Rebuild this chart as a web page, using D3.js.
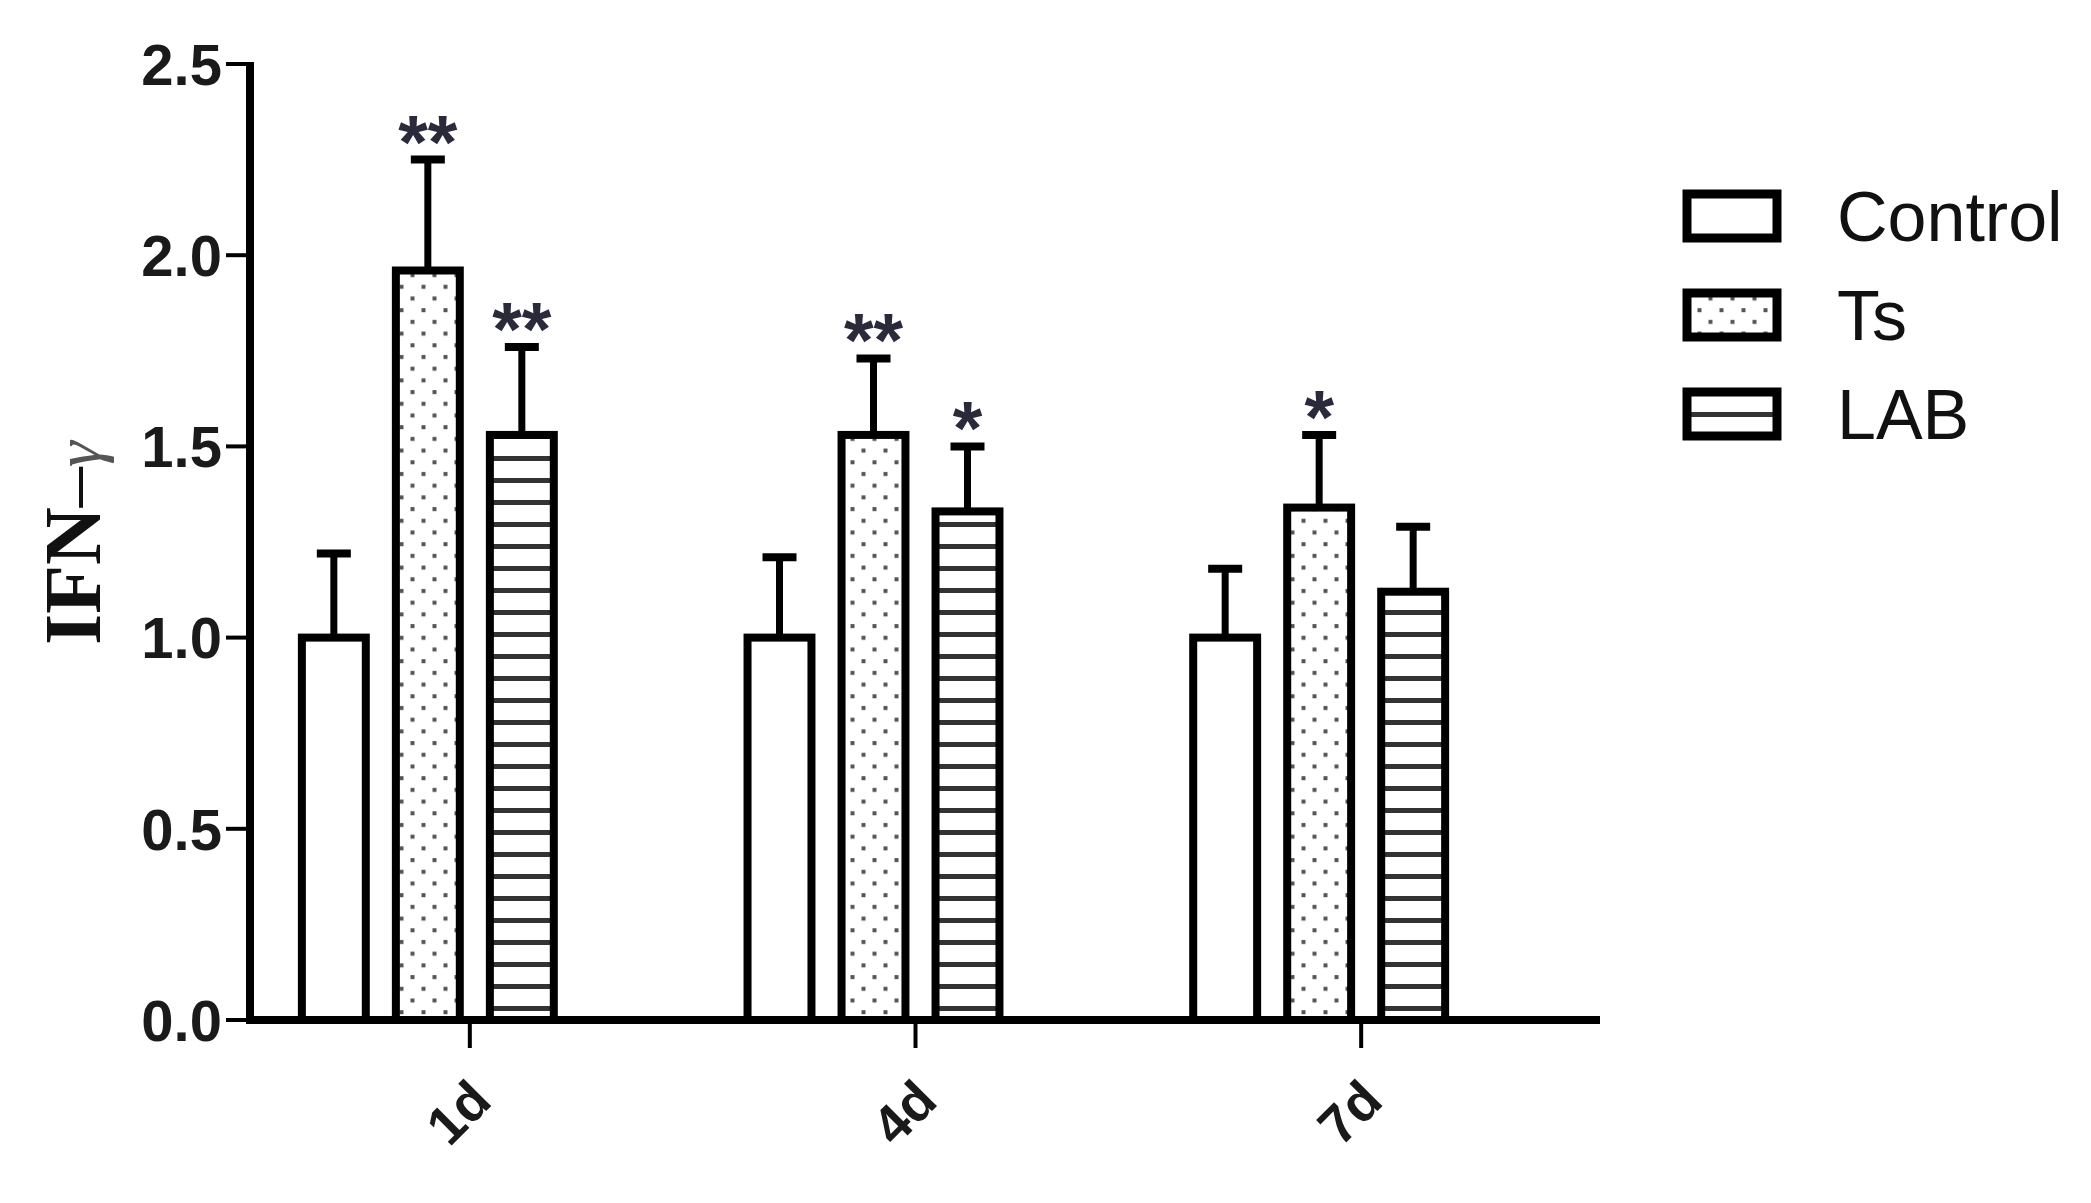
<!DOCTYPE html>
<html>
<head>
<meta charset="utf-8">
<script src="https://cdn.jsdelivr.net/npm/d3@7"></script>
<style>
  body { margin: 0; background: #fff; }
  svg { display: block; }
</style>
</head>
<body>
<svg></svg>
<script>
var width = 2091, height = 1203;

// data
var days = ["1d", "4d", "7d"];
var groups = ["Control", "Ts", "LAB"];
var control = [1.00, 1.00, 1.00];
var controlErr = [0.22, 0.21, 0.18];
var ts = [1.96, 1.53, 1.34];
var tsErr = [0.29, 0.20, 0.19];
var lab = [1.53, 1.33, 1.12];
var labErr = [0.23, 0.17, 0.17];
var tsStars = ["**", "**", "*"];
var labStars = ["**", "*", ""];
var yTicks = [0, 0.5, 1.0, 1.5, 2.0, 2.5];

var svg = d3.select("svg")
    .attr("width", width)
    .attr("height", height);

// patterns
var defs = svg.append("defs");
var dots = defs.append("pattern")
    .attr("id", "dots")
    .attr("patternUnits", "userSpaceOnUse")
    .attr("width", 22).attr("height", 23.4);
dots.append("rect").attr("width", 22).attr("height", 23.4).attr("fill", "#fff");
dots.append("rect").attr("x", 3.5).attr("y", 4).attr("width", 4).attr("height", 4).attr("fill", "#555");
dots.append("rect").attr("x", 14.5).attr("y", 15.7).attr("width", 4).attr("height", 4).attr("fill", "#555");

var lines = defs.append("pattern")
    .attr("id", "hlines")
    .attr("patternUnits", "userSpaceOnUse")
    .attr("width", 10).attr("height", 22);
lines.append("rect").attr("width", 10).attr("height", 22).attr("fill", "#fff");
lines.append("rect").attr("y", 16).attr("width", 10).attr("height", 5).attr("fill", "#333");

var fills = {Control: "#fff", Ts: "url(#dots)", LAB: "url(#hlines)"};

// scales
var y = d3.scaleLinear().domain([0, 2.5]).range([1020, 64]);
var x0 = d3.scaleBand().domain(days).range([205, 1542]);
var x1 = d3.scaleBand().domain(groups)
    .range([-141, 141])
    .paddingInner(0.32).paddingOuter(0.16);

var rows = [];
days.forEach(function(day, i) {
    rows.push({day: day, group: "Control", v: control[i], e: controlErr[i], star: ""});
    rows.push({day: day, group: "Ts", v: ts[i], e: tsErr[i], star: tsStars[i]});
    rows.push({day: day, group: "LAB", v: lab[i], e: labErr[i], star: labStars[i]});
});

function cx(d) { return x0(d.day) + x0.bandwidth() / 2 + x1(d.group) + x1.bandwidth() / 2; }

var g = svg.append("g");

// error bars (drawn first so the bar outline covers the joint)
g.selectAll("line.err")
    .data(rows)
    .join("line")
    .attr("class", "err")
    .attr("x1", cx).attr("x2", cx)
    .attr("y1", function(d) { return y(d.v); })
    .attr("y2", function(d) { return y(d.v + d.e); })
    .attr("stroke", "#000")
    .attr("stroke-width", 7);

g.selectAll("line.cap")
    .data(rows)
    .join("line")
    .attr("class", "cap")
    .attr("x1", function(d) { return cx(d) - 17; })
    .attr("x2", function(d) { return cx(d) + 17; })
    .attr("y1", function(d) { return y(d.v + d.e); })
    .attr("y2", function(d) { return y(d.v + d.e); })
    .attr("stroke", "#000")
    .attr("stroke-width", 8);

// bars
g.selectAll("rect.bar")
    .data(rows)
    .join("rect")
    .attr("class", "bar")
    .attr("x", function(d) { return cx(d) - x1.bandwidth() / 2; })
    .attr("width", x1.bandwidth())
    .attr("y", function(d) { return y(d.v); })
    .attr("height", function(d) { return y(0) - y(d.v); })
    .attr("fill", function(d) { return fills[d.group]; })
    .attr("stroke", "#000")
    .attr("stroke-width", 8);

// significance stars
g.selectAll("text.star")
    .data(rows.filter(function(d) { return d.star; }))
    .join("text")
    .attr("class", "star")
    .attr("x", cx)
    .attr("y", function(d) { return y(d.v + d.e) + 8; })
    .attr("text-anchor", "middle")
    .attr("font-family", "Liberation Sans, Arial, sans-serif")
    .attr("font-weight", "bold")
    .attr("font-size", 76)
    .attr("fill", "#2a2a3a")
    .text(function(d) { return d.star; });

// y axis
var ax = svg.append("g");
ax.append("line")
    .attr("x1", 250).attr("x2", 250)
    .attr("y1", y(2.5) - 2).attr("y2", y(0) + 4)
    .attr("stroke", "#000").attr("stroke-width", 8);
ax.selectAll("line.ytick")
    .data(yTicks)
    .join("line")
    .attr("class", "ytick")
    .attr("x1", 226).attr("x2", 250)
    .attr("y1", function(d) { return y(d); })
    .attr("y2", function(d) { return y(d); })
    .attr("stroke", "#000").attr("stroke-width", 4);
ax.selectAll("text.ylab")
    .data(yTicks)
    .join("text")
    .attr("class", "ylab")
    .attr("x", 222)
    .attr("y", function(d) { return y(d); })
    .attr("dy", "0.36em")
    .attr("text-anchor", "end")
    .attr("font-family", "Liberation Sans, Arial, sans-serif")
    .attr("font-weight", "bold")
    .attr("font-size", 58)
    .attr("fill", "#1a1a1a")
    .text(d3.format(".1f"));

// x axis
ax.append("line")
    .attr("x1", 246).attr("x2", 1600)
    .attr("y1", y(0)).attr("y2", y(0))
    .attr("stroke", "#000").attr("stroke-width", 8);
ax.selectAll("line.xtick")
    .data(days)
    .join("line")
    .attr("class", "xtick")
    .attr("x1", function(d) { return x0(d) + x0.bandwidth() / 2 + 42; })
    .attr("x2", function(d) { return x0(d) + x0.bandwidth() / 2 + 42; })
    .attr("y1", y(0)).attr("y2", y(0) + 28)
    .attr("stroke", "#000").attr("stroke-width", 4);
ax.selectAll("text.xlab")
    .data(days)
    .join("text")
    .attr("class", "xlab")
    .attr("transform", function(d) {
        return "translate(" + (x0(d) + x0.bandwidth() / 2 + 30) + ",1112) rotate(-45)";
    })
    .attr("text-anchor", "middle")
    .attr("dy", "0.36em")
    .attr("font-family", "Liberation Sans, Arial, sans-serif")
    .attr("font-weight", "bold")
    .attr("font-size", 54)
    .attr("fill", "#1a1a1a")
    .text(function(d) { return d; });

// y axis title
var yt = svg.append("text")
    .attr("transform", "translate(72,543) rotate(-90)")
    .attr("text-anchor", "middle")
    .attr("dy", "0.35em")
    .attr("font-family", "Liberation Serif, Times New Roman, serif")
    .attr("font-size", 80)
    .attr("fill", "#111");
yt.append("tspan").attr("font-weight", "bold").text("IFN");
yt.append("tspan").attr("font-weight", "normal").text("\u2013");
yt.append("tspan").attr("font-weight", "normal").attr("font-style", "italic")
    .attr("font-size", 66).attr("fill", "#555").text("\u03b3");

// legend
var leg = svg.append("g");
var ly = d3.scalePoint().domain(groups).range([216, 414]);
leg.selectAll("rect")
    .data(groups)
    .join("rect")
    .attr("x", 1687)
    .attr("y", function(d) { return ly(d) - 22; })
    .attr("width", 90)
    .attr("height", 44)
    .attr("fill", function(d) { return fills[d]; })
    .attr("stroke", "#000")
    .attr("stroke-width", 9);
leg.selectAll("text")
    .data(groups)
    .join("text")
    .attr("x", 1837)
    .attr("y", function(d) { return ly(d); })
    .attr("dy", "0.36em")
    .attr("font-family", "Liberation Sans, Arial, sans-serif")
    .attr("font-size", 70)
    .attr("fill", "#111")
    .text(function(d) { return d; });
</script>
</body>
</html>
